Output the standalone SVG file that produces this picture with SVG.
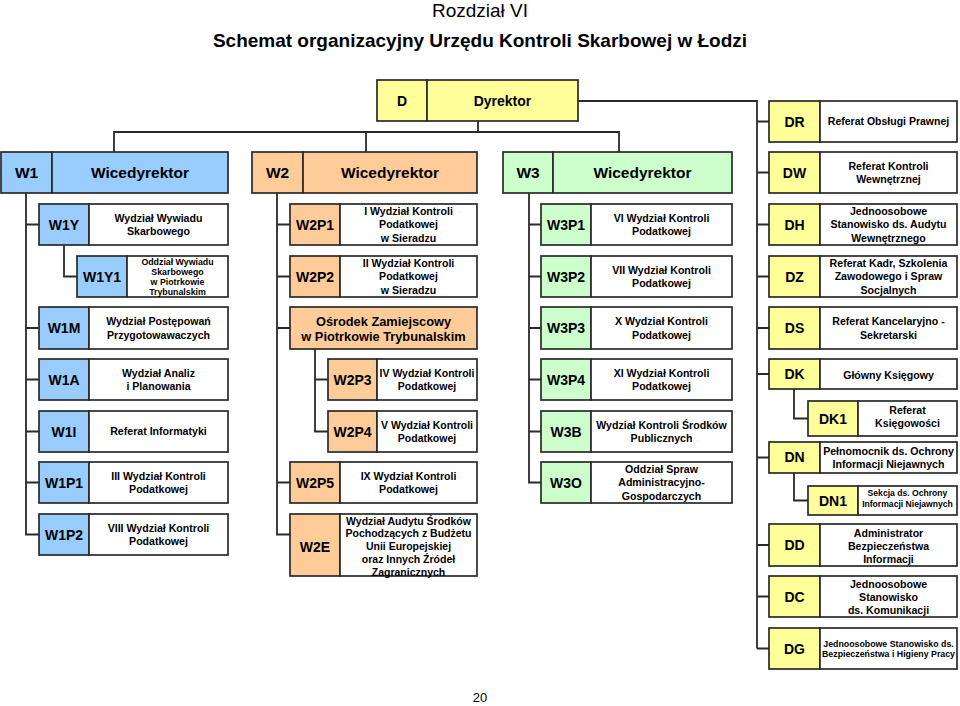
<svg xmlns="http://www.w3.org/2000/svg" width="960" height="706" viewBox="0 0 960 706">
<style>
rect{stroke:#2a2a2a;stroke-width:1.7}
.b{fill:#99CCFF}.o{fill:#FFCC99}.g{fill:#CCFFCC}.y{fill:#FFFF99}.w{fill:#FFFFFF}
text{font-family:"Liberation Sans",Arial,sans-serif;font-weight:bold;fill:#000;text-anchor:middle}
.h{font-size:15.5px}.c{font-size:14px}.t{font-size:10.6px}.t5{font-size:10.5px}.s{font-size:8.8px}.s2{font-size:8.6px}.oz{font-size:12.8px}
.ti{font-size:19px}.r{font-weight:normal}
#conn path{fill:none;stroke:#2a2a2a;stroke-width:1.8}
</style>
<text class="r" x="480" y="17" style="font-size:19px">Rozdział VI</text>
<text class="ti" x="480" y="47">Schemat organizacyjny Urzędu Kontroli Skarbowej w Łodzi</text>
<text class="r" x="480" y="702" style="font-size:13px">20</text>

<g id="conn">
<path d="M478 121V132M114 152V132H619V152M366 132V152"/>
<path d="M578 101H757V648.5M757 121.5H769M757 172.5H769M757 224.5H769M757 276.5H769M757 328H769M757 374H769M757 457.5H769M757 545H769M757 596.5H769M757 648.5H769"/>
<path d="M794 389V418.5H808M794 473V500.5H808"/>
<path d="M26 193V534.5H39M26 224.5H39M26 328H39M26 379.5H39M26 431.5H39M26 482.5H39"/>
<path d="M64 245V276.5H77"/>
<path d="M277 193V534.5H290M277 224.5H290M277 276.5H290M277 328H290M277 482.5H290"/>
<path d="M315 349V431.5H328M315 379.5H328"/>
<path d="M529 193V482.5H541M529 224.5H541M529 276.5H541M529 328H541M529 379.5H541M529 431.5H541"/>
</g>

<g id="D"><rect class="y" x="377" y="80" width="50" height="41"/><rect class="y" x="427" y="80" width="151" height="41"/><text class="c" x="402" y="105.5">D</text><text class="c" x="502.5" y="105.5">Dyrektor</text></g>

<g id="W1"><rect class="b" x="1" y="152" width="51" height="41"/><rect class="b" x="52" y="152" width="176" height="41"/><text class="h" x="26.5" y="178">W1</text><text class="h" x="140" y="178">Wicedyrektor</text></g>
<g id="W2"><rect class="o" x="252" y="152" width="51" height="41"/><rect class="o" x="303" y="152" width="174" height="41"/><text class="h" x="277.5" y="178">W2</text><text class="h" x="390" y="178">Wicedyrektor</text></g>
<g id="W3"><rect class="g" x="503" y="152" width="50" height="41"/><rect class="g" x="553" y="152" width="179" height="41"/><text class="h" x="528" y="178">W3</text><text class="h" x="642.5" y="178">Wicedyrektor</text></g>

<g id="W1Y"><rect class="b" x="39" y="204" width="50" height="41"/><rect class="w" x="89" y="204" width="139" height="41"/><text class="c" x="64" y="229.5">W1Y</text><text class="t" x="158.5" y="221.6">Wydział Wywiadu</text><text class="t" x="158.5" y="235">Skarbowego</text></g>
<g id="W1Y1"><rect class="b" x="77" y="256" width="50" height="41"/><rect class="w" x="127" y="256" width="101" height="41"/><text class="c" x="102" y="281.5">W1Y1</text><text class="s" x="177.5" y="265.2">Oddział Wywiadu</text><text class="s" x="177.5" y="275.2">Skarbowego</text><text class="s" x="177.5" y="285.2">w Piotrkowie</text><text class="s" x="177.5" y="295.2">Trybunalskim</text></g>
<g id="W1M"><rect class="b" x="39" y="307" width="50" height="42"/><rect class="w" x="89" y="307" width="139" height="42"/><text class="c" x="64" y="333">W1M</text><text class="t" x="158.5" y="325.1">Wydział Postępowań</text><text class="t" x="158.5" y="338.5">Przygotowawaczych</text></g>
<g id="W1A"><rect class="b" x="39" y="359" width="50" height="41"/><rect class="w" x="89" y="359" width="139" height="41"/><text class="c" x="64" y="384.5">W1A</text><text class="t" x="158.5" y="376.6">Wydział Analiz</text><text class="t" x="158.5" y="390">i Planowania</text></g>
<g id="W1I"><rect class="b" x="39" y="411" width="50" height="41"/><rect class="w" x="89" y="411" width="139" height="41"/><text class="c" x="64" y="436.5">W1I</text><text class="t" x="158.5" y="435.3">Referat Informatyki</text></g>
<g id="W1P1"><rect class="b" x="39" y="462" width="50" height="41"/><rect class="w" x="89" y="462" width="139" height="41"/><text class="c" x="64" y="487.5">W1P1</text><text class="t" x="158.5" y="479.6">III Wydział Kontroli</text><text class="t" x="158.5" y="493">Podatkowej</text></g>
<g id="W1P2"><rect class="b" x="39" y="514" width="50" height="41"/><rect class="w" x="89" y="514" width="139" height="41"/><text class="c" x="64" y="539.5">W1P2</text><text class="t" x="158.5" y="531.6">VIII Wydział Kontroli</text><text class="t" x="158.5" y="545">Podatkowej</text></g>

<g id="W2P1"><rect class="o" x="290" y="204" width="50" height="41"/><rect class="w" x="340" y="204" width="137" height="41"/><text class="c" x="315" y="229.5">W2P1</text><text class="t" x="408.5" y="215">I Wydział Kontroli</text><text class="t" x="408.5" y="228.3">Podatkowej</text><text class="t" x="408.5" y="241.6">w Sieradzu</text></g>
<g id="W2P2"><rect class="o" x="290" y="256" width="50" height="41"/><rect class="w" x="340" y="256" width="137" height="41"/><text class="c" x="315" y="281.5">W2P2</text><text class="t" x="408.5" y="267">II Wydział Kontroli</text><text class="t" x="408.5" y="280.3">Podatkowej</text><text class="t" x="408.5" y="293.6">w Sieradzu</text></g>
<g id="OZ"><rect class="o" x="290" y="307" width="187" height="42"/><text class="oz" x="383.5" y="326.2">Ośrodek Zamiejscowy</text><text class="oz" x="383.5" y="341.2">w Piotrkowie Trybunalskim</text></g>
<g id="W2P3"><rect class="o" x="328" y="359" width="49" height="41"/><rect class="w" x="377" y="359" width="100" height="41"/><text class="c" x="352.5" y="384.5">W2P3</text><text class="t5" x="427" y="376.6">IV Wydział Kontroli</text><text class="t5" x="427" y="390">Podatkowej</text></g>
<g id="W2P4"><rect class="o" x="328" y="411" width="49" height="41"/><rect class="w" x="377" y="411" width="100" height="41"/><text class="c" x="352.5" y="436.5">W2P4</text><text class="t5" x="427" y="428.6">V Wydział Kontroli</text><text class="t5" x="427" y="442">Podatkowej</text></g>
<g id="W2P5"><rect class="o" x="290" y="462" width="50" height="41"/><rect class="w" x="340" y="462" width="137" height="41"/><text class="c" x="315" y="487.5">W2P5</text><text class="t" x="408.5" y="479.6">IX Wydział Kontroli</text><text class="t" x="408.5" y="493">Podatkowej</text></g>
<g id="W2E"><rect class="o" x="290" y="514" width="50" height="62"/><rect class="w" x="340" y="514" width="137" height="62"/><text class="c" x="315" y="551.5">W2E</text><text class="t5" x="408.5" y="524.5">Wydział Audytu Środków</text><text class="t5" x="408.5" y="537.4">Pochodzących z Budżetu</text><text class="t5" x="408.5" y="550.3">Unii Europejskiej</text><text class="t5" x="408.5" y="563.2">oraz Innych Źródeł</text><text class="t5" x="408.5" y="576.1">Zagranicznych</text></g>

<g id="W3P1"><rect class="g" x="541" y="204" width="50" height="41"/><rect class="w" x="591" y="204" width="141" height="41"/><text class="c" x="566" y="229.5">W3P1</text><text class="t" x="661.5" y="222">VI Wydział Kontroli</text><text class="t" x="661.5" y="235.4">Podatkowej</text></g>
<g id="W3P2"><rect class="g" x="541" y="256" width="50" height="41"/><rect class="w" x="591" y="256" width="141" height="41"/><text class="c" x="566" y="281.5">W3P2</text><text class="t" x="661.5" y="274">VII Wydział Kontroli</text><text class="t" x="661.5" y="287.4">Podatkowej</text></g>
<g id="W3P3"><rect class="g" x="541" y="307" width="50" height="42"/><rect class="w" x="591" y="307" width="141" height="42"/><text class="c" x="566" y="333">W3P3</text><text class="t" x="661.5" y="325.1">X Wydział Kontroli</text><text class="t" x="661.5" y="338.5">Podatkowej</text></g>
<g id="W3P4"><rect class="g" x="541" y="359" width="50" height="41"/><rect class="w" x="591" y="359" width="141" height="41"/><text class="c" x="566" y="384.5">W3P4</text><text class="t" x="661.5" y="376.6">XI Wydział Kontroli</text><text class="t" x="661.5" y="390">Podatkowej</text></g>
<g id="W3B"><rect class="g" x="541" y="411" width="50" height="41"/><rect class="w" x="591" y="411" width="141" height="41"/><text class="c" x="566" y="436.5">W3B</text><text class="t" x="661.5" y="428.6">Wydział Kontroli Środków</text><text class="t" x="661.5" y="442">Publicznych</text></g>
<g id="W3O"><rect class="g" x="541" y="462" width="50" height="41"/><rect class="w" x="591" y="462" width="141" height="41"/><text class="c" x="566" y="487.5">W3O</text><text class="t" x="661.5" y="473">Oddział Spraw</text><text class="t" x="661.5" y="486.3">Administracyjno-</text><text class="t" x="661.5" y="499.6">Gospodarczych</text></g>

<g id="DR"><rect class="y" x="769" y="101" width="51" height="41"/><rect class="w" x="820" y="101" width="137" height="41"/><text class="c" x="794.5" y="126.5">DR</text><text class="t5" x="888.5" y="125.3">Referat Obsługi Prawnej</text></g>
<g id="DW"><rect class="y" x="769" y="152" width="51" height="41"/><rect class="w" x="820" y="152" width="137" height="41"/><text class="c" x="794.5" y="177.5">DW</text><text class="t" x="888.5" y="169.6">Referat Kontroli</text><text class="t" x="888.5" y="183">Wewnętrznej</text></g>
<g id="DH"><rect class="y" x="769" y="204" width="51" height="41"/><rect class="w" x="820" y="204" width="137" height="41"/><text class="c" x="794.5" y="229.5">DH</text><text class="t" x="888.5" y="215">Jednoosobowe</text><text class="t" x="888.5" y="228.3">Stanowisko ds. Audytu</text><text class="t" x="888.5" y="241.6">Wewnętrznego</text></g>
<g id="DZ"><rect class="y" x="769" y="256" width="51" height="41"/><rect class="w" x="820" y="256" width="137" height="41"/><text class="c" x="794.5" y="281.5">DZ</text><text class="t" x="888.5" y="267">Referat Kadr, Szkolenia</text><text class="t" x="888.5" y="280.3">Zawodowego i Spraw</text><text class="t" x="888.5" y="293.6">Socjalnych</text></g>
<g id="DS"><rect class="y" x="769" y="307" width="51" height="42"/><rect class="w" x="820" y="307" width="137" height="42"/><text class="c" x="794.5" y="333">DS</text><text class="t" x="888.5" y="325.1">Referat Kancelaryjno -</text><text class="t" x="888.5" y="338.5">Sekretarski</text></g>
<g id="DK"><rect class="y" x="769" y="359" width="51" height="30"/><rect class="w" x="820" y="359" width="137" height="30"/><text class="c" x="794.5" y="379">DK</text><text class="t" x="888.5" y="378.8">Główny Księgowy</text></g>
<g id="DK1"><rect class="y" x="808" y="401" width="50" height="35"/><rect class="w" x="858" y="401" width="99" height="35"/><text class="c" x="833" y="423.5">DK1</text><text class="t" x="907.5" y="413.8">Referat</text><text class="t" x="907.5" y="427.1">Księgowości</text></g>
<g id="DN"><rect class="y" x="769" y="442" width="51" height="31"/><rect class="w" x="820" y="442" width="137" height="31"/><text class="c" x="794.5" y="461.5">DN</text><text class="t" x="888.5" y="454.5">Pełnomocnik ds. Ochrony</text><text class="t" x="888.5" y="467.8">Informacji Niejawnych</text></g>
<g id="DN1"><rect class="y" x="808" y="486" width="50" height="29"/><rect class="w" x="858" y="486" width="99" height="29"/><text class="c" x="833" y="505.5">DN1</text><text class="s2" x="907.5" y="496">Sekcja ds. Ochrony</text><text class="s2" x="907.5" y="506.5">Informacji Niejawnych</text></g>
<g id="DD"><rect class="y" x="769" y="524" width="51" height="42"/><rect class="w" x="820" y="524" width="137" height="42"/><text class="c" x="794.5" y="550">DD</text><text class="t" x="888.5" y="536.5">Administrator</text><text class="t" x="888.5" y="549.8">Bezpieczeństwa</text><text class="t" x="888.5" y="562.8">Informacji</text></g>
<g id="DC"><rect class="y" x="769" y="576" width="51" height="41"/><rect class="w" x="820" y="576" width="137" height="41"/><text class="c" x="794.5" y="601.5">DC</text><text class="t" x="888.5" y="587.8">Jednoosobowe</text><text class="t" x="888.5" y="600.8">Stanowisko</text><text class="t" x="888.5" y="613.8">ds. Komunikacji</text></g>
<g id="DG"><rect class="y" x="769" y="628" width="51" height="41"/><rect class="w" x="820" y="628" width="137" height="41"/><text class="c" x="794.5" y="653.5">DG</text><text class="s" x="888.5" y="647.2">Jednoosobowe Stanowisko ds.</text><text class="s" x="888.5" y="657.2">Bezpieczeństwa i Higieny Pracy</text></g>
</svg>
